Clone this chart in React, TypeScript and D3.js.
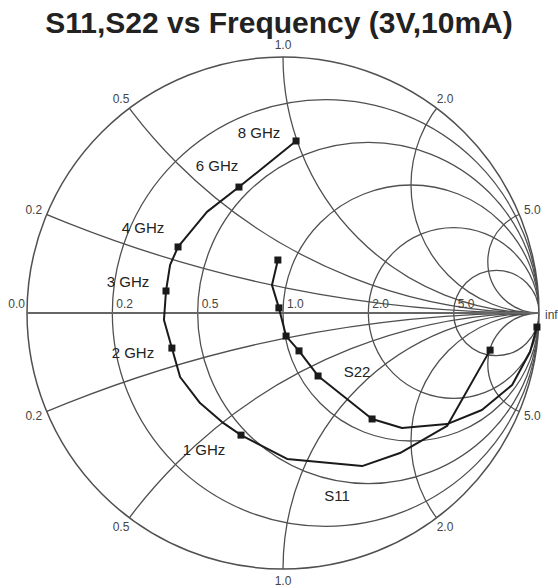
import React, { useRef, useEffect } from "react";
import * as d3 from "d3";

const resistances = [0.2, 0.5, 1.0, 2.0, 5.0];
const reactances = [0.2, 0.5, 1.0, 2.0, 5.0];
const gridLabels = ["0.2", "0.5", "1.0", "2.0", "5.0"];

// S11 reflection coefficient (real / imag), lowest frequency first
const s11Re = [0.809, 0.641, 0.457, 0.309, 0.016, -0.164, -0.238, -0.324, -0.402, -0.434, -0.465, -0.457, -0.441, -0.41, -0.297, -0.172, 0.051];
const s11Im = [-0.145, -0.441, -0.547, -0.598, -0.57, -0.477, -0.426, -0.352, -0.25, -0.137, -0.027, 0.086, 0.188, 0.258, 0.395, 0.492, 0.672];
const s11Freq = ["start", "", "", "", "", "1 GHz", "", "", "", "2 GHz", "", "3 GHz", "", "4 GHz", "", "6 GHz", "8 GHz"];

// S22 reflection coefficient (real / imag), lowest frequency first
const s22Re = [0.992, 0.965, 0.895, 0.777, 0.641, 0.465, 0.348, 0.137, 0.0625, 0.012, -0.016, -0.043, -0.02];
const s22Im = [-0.055, -0.152, -0.281, -0.379, -0.434, -0.449, -0.414, -0.246, -0.148, -0.09, 0.02, 0.109, 0.207];
const s22Freq = ["start", "", "", "", "", "", "1 GHz", "2 GHz", "3 GHz", "4 GHz", "6 GHz", "", "8 GHz"];

const title = "S11,S22 vs Frequency (3V,10mA)";

const App = () => {
  const svgRef = useRef<SVGSVGElement>(null);

  useEffect(() => {
    const width = 558;
    const height = 588;
    const cx = 283;
    const cy = 313;
    const R = 256;
    const font = "'Liberation Sans', Arial, sans-serif";
    const gridColor = "#505050";

    const svg = d3.select(svgRef.current);
    svg.selectAll("*").remove();
    svg.attr("width", width).attr("height", height);

    const x = d3.scaleLinear().domain([-1, 1]).range([cx - R, cx + R]);
    const y = d3.scaleLinear().domain([-1, 1]).range([cy + R, cy - R]);
    const len = (v: number) => v * R;

    svg.append("defs").append("clipPath").attr("id", "unit")
      .append("circle").attr("cx", x(0)).attr("cy", y(0)).attr("r", len(1));

    // title
    svg.append("text")
      .attr("x", 279).attr("y", 33)
      .attr("text-anchor", "middle")
      .style("font-family", font).style("font-size", "30px").style("font-weight", "bold")
      .style("fill", "#222")
      .text(title);

    const grid = svg.append("g").attr("clip-path", "url(#unit)")
      .attr("fill", "none").attr("stroke", gridColor).attr("stroke-width", 1.3);

    // constant resistance circles
    grid.selectAll("circle.r")
      .data(resistances)
      .join("circle")
      .attr("class", "r")
      .attr("cx", r => x(r / (1 + r)))
      .attr("cy", y(0))
      .attr("r", r => len(1 / (1 + r)));

    // constant reactance circles (both signs)
    const xs = reactances.flatMap(v => [v, -v]);
    grid.selectAll("circle.x")
      .data(xs)
      .join("circle")
      .attr("class", "x")
      .attr("cx", x(1))
      .attr("cy", v => y(1 / v))
      .attr("r", v => len(1 / Math.abs(v)));

    // outer circle
    svg.append("circle")
      .attr("cx", x(0)).attr("cy", y(0)).attr("r", len(1))
      .attr("fill", "none").attr("stroke", gridColor).attr("stroke-width", 1.5);

    // real axis
    svg.append("line")
      .attr("x1", x(-1)).attr("x2", x(1)).attr("y1", y(0)).attr("y2", y(0))
      .attr("stroke", "#666").attr("stroke-width", 2.2);

    const labelStyle = (sel: any) => sel
      .style("font-family", font).style("font-size", "12px").style("fill", "#444");

    // resistance labels on real axis
    svg.selectAll("text.rl")
      .data(resistances)
      .join("text")
      .attr("class", "rl")
      .attr("x", r => x((r - 1) / (r + 1)) + 4)
      .attr("y", y(0) - 5)
      .text((_, i) => gridLabels[i])
      .call(labelStyle);

    // reactance labels around the rim
    const rim = reactances.flatMap((v, i) => [{ v, t: gridLabels[i] }, { v: -v, t: gridLabels[i] }]);
    svg.selectAll("text.xl")
      .data(rim)
      .join("text")
      .attr("class", "xl")
      .attr("x", d => {
        const a = Math.atan2(2 * d.v, d.v * d.v - 1);
        return x(0) + (len(1) + 14) * Math.cos(a);
      })
      .attr("y", d => {
        const a = Math.atan2(2 * d.v, d.v * d.v - 1);
        return y(0) - (len(1) + 12) * Math.sin(a);
      })
      .attr("text-anchor", "middle")
      .attr("dominant-baseline", "central")
      .text(d => d.t)
      .call(labelStyle);

    svg.append("text").attr("x", x(-1) - 2).attr("y", y(0) - 5)
      .attr("text-anchor", "end").text("0.0").call(labelStyle);
    svg.append("text").attr("x", x(1) + 6).attr("y", y(0) + 6)
      .text("inf").call(labelStyle);

    // traces
    const line = d3.line<number[]>()
      .x(d => d[0])
      .y(d => d[1]);

    const drawTrace = (re: number[], im: number[], freq: string[]) => {
      const pts = re.map((v, i) => [x(v), y(im[i])]);
      svg.append("path")
        .attr("d", line(pts))
        .attr("fill", "none")
        .attr("stroke", "#1a1a1a")
        .attr("stroke-width", 2)
        .attr("stroke-linejoin", "round");
      svg.selectAll(null)
        .data(pts.filter((_, i) => freq[i] !== ""))
        .join("rect")
        .attr("x", d => d[0] - 3.5)
        .attr("y", d => d[1] - 3.5)
        .attr("width", 7)
        .attr("height", 7)
        .attr("fill", "#1a1a1a");
      return pts;
    };

    const p11 = drawTrace(s11Re, s11Im, s11Freq);
    drawTrace(s22Re, s22Im, s22Freq);

    // frequency annotations on S11
    const offsets: Record<string, [number, number]> = {
      "8 GHz": [-37, -8],
      "6 GHz": [-22, -22],
      "4 GHz": [-35, -19],
      "3 GHz": [-38, -9],
      "2 GHz": [-39, 4],
      "1 GHz": [-37, 14],
    };
    s11Freq.forEach((f, i) => {
      if (!offsets[f]) return;
      svg.append("text")
        .attr("x", p11[i][0] + offsets[f][0])
        .attr("y", p11[i][1] + offsets[f][1])
        .attr("text-anchor", "middle")
        .attr("dominant-baseline", "central")
        .style("font-family", font).style("font-size", "15px").style("fill", "#222")
        .text(f);
    });

    // series names
    svg.append("text").attr("x", x(0.211)).attr("y", y(-0.711))
      .attr("text-anchor", "middle").attr("dominant-baseline", "central")
      .style("font-family", font).style("font-size", "15px").style("fill", "#222")
      .text("S11");
    svg.append("text").attr("x", x(0.289)).attr("y", y(-0.23))
      .attr("text-anchor", "middle").attr("dominant-baseline", "central")
      .style("font-family", font).style("font-size", "15px").style("fill", "#222")
      .text("S22");
  }, []);

  return (
    <svg ref={svgRef} style={{ position: "absolute", left: 0, top: 0, background: "#fff" }}></svg>
  );
};

export default App;
